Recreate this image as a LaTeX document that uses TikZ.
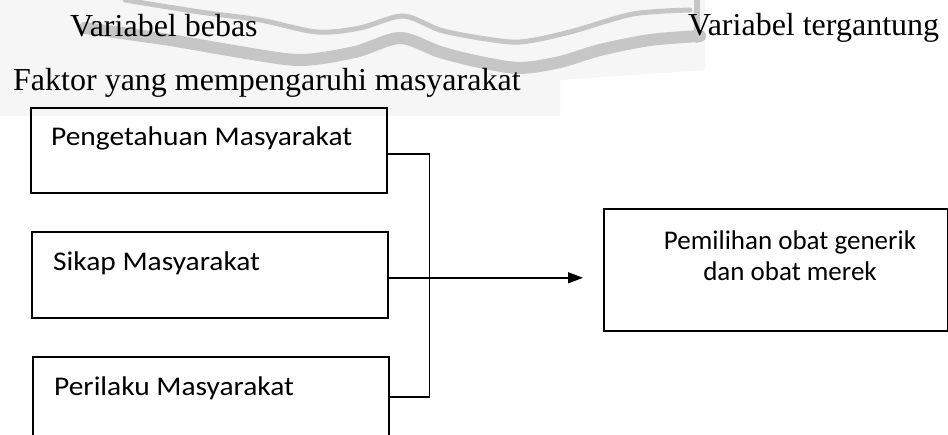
\documentclass[tikz,border=0pt]{standalone}
\usepackage{fontspec}
\setmainfont{Liberation Serif}
\newfontfamily\boxfont{Carlito}
\newfontfamily\wideboxfont[FakeStretch=1.09]{Carlito}
\usetikzlibrary{arrows.meta,calc}

\definecolor{markgray}{HTML}{C6C6C6}
\definecolor{hazegray}{HTML}{F6F6F6}

\tikzset{
  x=1pt, y=-1pt,
  heading/.style={inner sep=0pt, anchor=base west, font=\fontsize{32}{36}\selectfont},
  factorbox/.style={draw, line width=1.6pt, inner sep=0pt, anchor=north west},
  boxtext/.style={inner sep=0pt, anchor=base west, font=\wideboxfont\fontsize{27}{31}\selectfont},
  resulttext/.style={inner sep=0pt, anchor=base, font=\boxfont\fontsize{27}{31}\selectfont},
  link/.style={line width=1.4pt},
  logostroke/.style={draw=markgray, line cap=round, line join=round},
}

\begin{document}
\begin{tikzpicture}
\clip (0,0) rectangle (948,434);
\fill[white] (0,0) rectangle (948,434);

% faint background band and logo strokes
\fill[hazegray] (0,0) -- (705,0) -- (705,70) -- (560,80) -- (560,116) -- (0,116) -- cycle;
\draw[logostroke, line width=12pt]
  plot[smooth, tension=0.5] coordinates {(85,28) (170,40) (240,52) (300,60) (355,52) (400,38) (440,52) (480,62) (520,68) (560,62) (600,50) (650,40) (700,36)};
\draw[logostroke, line width=5pt]
  plot[smooth, tension=0.5] coordinates {(125,0) (200,12) (260,20) (317,32) (360,28) (403,16) (440,30) (480,38) (520,42) (570,32) (633,14) (690,10)};
\draw[logostroke, line width=6pt] (697,0) -- (697,40);

% headings
\node[heading] (hbebas) at (70,36) {Variabel bebas};
\node[heading] (htergantung) at (688,35) {Variabel tergantung};
\node[heading] (hfaktor) at (13,90) {Faktor yang mempengaruhi masyarakat};

% independent variable boxes
\node[factorbox, minimum width=356pt, minimum height=85pt] (b1) at (30,107) {};
\node[factorbox, minimum width=356pt, minimum height=86pt] (b2) at (31,231) {};
\node[factorbox, minimum width=356pt, minimum height=86pt] (b3) at (32,356) {};
\node[boxtext] (t1) at (51,145) {Pengetahuan Masyarakat};
\node[boxtext] (t2) at (53,270) {Sikap Masyarakat};
\node[boxtext] (t3) at (54,395) {Perilaku Masyarakat};

% dependent variable box
\node[factorbox, minimum width=344pt, minimum height=122pt] (tgt) at (603,208) {};
\node[resulttext] (u1) at (790,249) {Pemilihan obat generik};
\node[resulttext] (u2) at (790,280) {dan obat merek};

% connectors
\coordinate (s1) at ([yshift=-3.5pt]b1.east);
\coordinate (s2) at ([yshift=-3pt]b2.east);
\coordinate (s3) at ([yshift=3pt]b3.east);
\coordinate (bus) at ([xshift=42pt]s1);
\coordinate (tip) at ([xshift=-20pt]tgt.west);
\draw[link] (s1) -- (bus) |- (s3);
\draw[link, -{Triangle[length=15pt,width=11pt]}] (s2) -- (tip |- s2);
\end{tikzpicture}
\end{document}
